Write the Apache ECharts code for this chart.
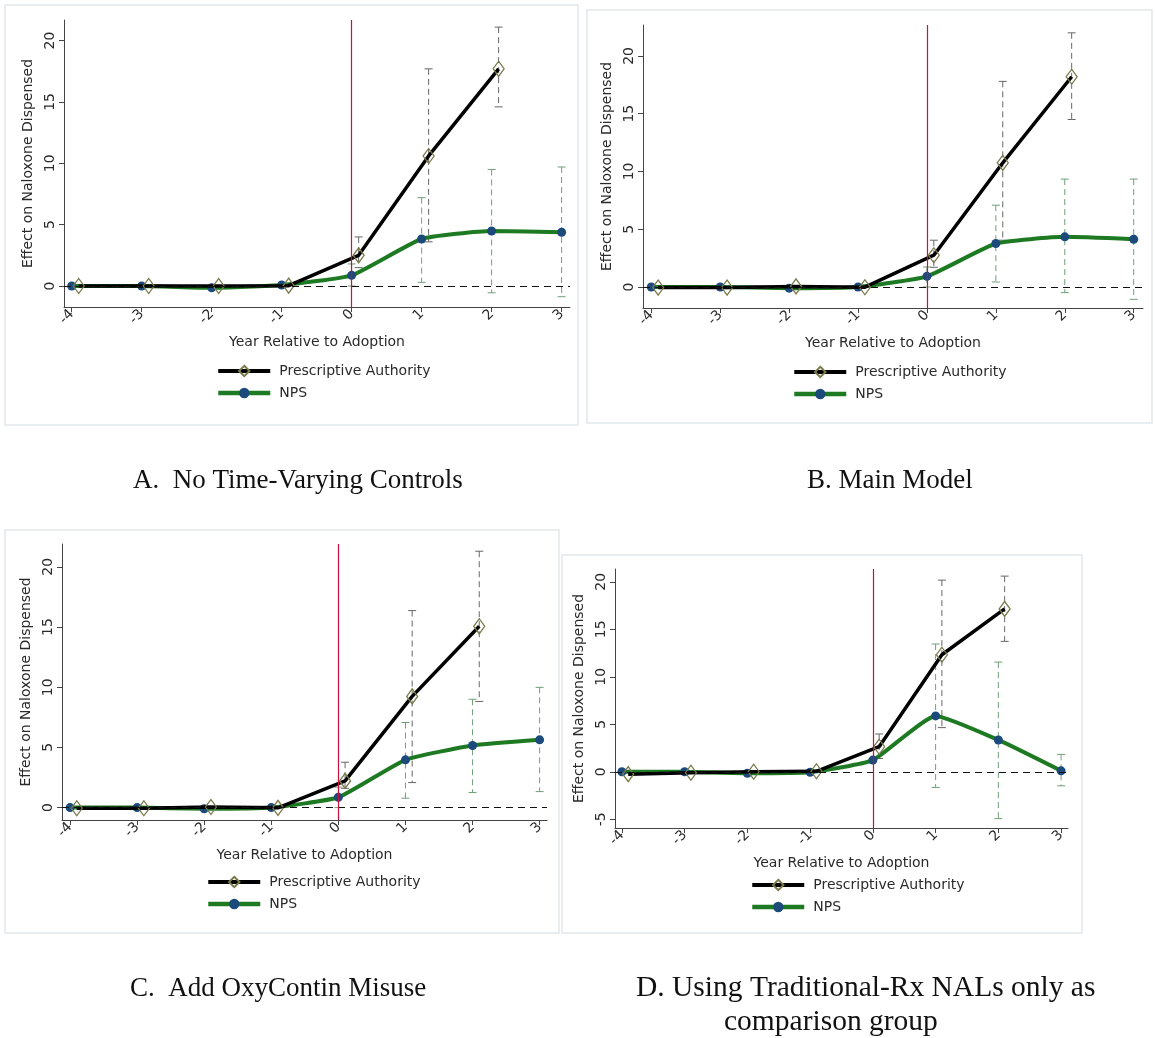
<!DOCTYPE html>
<html>
<head>
<meta charset="utf-8">
<script src="https://cdn.jsdelivr.net/npm/echarts@6/dist/echarts.min.js"></script>
<style>
  body { margin: 0; background: #fff; }
  #main { width: 1155px; height: 1038px; }
</style>
</head>
<body>
<div id="main"></div>
<script>
// event-time years
var years = [-4, -3, -2, -1, 0, 1, 2, 3];
var paYears = [-4, -3, -2, -1, 0, 1, 2];
var xTicks = [-4, -3, -2, -1, 0, 1, 2, 3];

// A. No Time-Varying Controls
var paA = [0, 0, 0, 0.03, 2.5, 10.6, 17.7];
var paLoA = [null, null, null, null, 1.5, 3.6, 14.6];
var paHiA = [null, null, null, null, 4.0, 17.7, 21.1];
var npsA = [0, 0, -0.15, 0.08, 0.87, 3.83, 4.48, 4.38];
var npsLoA = [null, null, null, null, 0.0, 0.3, -0.55, -0.87];
var npsHiA = [null, null, null, null, 1.8, 7.2, 9.5, 9.7];

// B. Main Model
var paB = [-0.05, -0.05, 0.05, -0.02, 2.75, 10.75, 18.2];
var paLoB = [null, null, null, null, 1.7, 4.05, 14.5];
var paHiB = [null, null, null, null, 4.05, 17.8, 22.0];
var npsB = [0, 0, -0.1, 0, 0.92, 3.76, 4.34, 4.13];
var npsLoB = [null, null, null, null, 0.0, 0.43, -0.49, -1.07];
var npsHiB = [null, null, null, null, 1.73, 7.08, 9.34, 9.34];

// C. Add OxyContin Misuse
var paC = [-0.05, -0.05, 0.05, -0.02, 2.22, 9.24, 15.06];
var paLoC = [null, null, null, null, 1.6, 2.08, 8.82];
var paHiC = [null, null, null, null, 3.77, 16.37, 21.3];
var npsC = [0, 0, -0.1, 0, 0.86, 3.97, 5.16, 5.63];
var npsLoC = [null, null, null, null, 0.0, 0.78, 1.25, 1.33];
var npsHiC = [null, null, null, null, 1.7, 7.07, 9.0, 9.99];

// D. Traditional-Rx NALs as comparison group
var paD = [-0.25, -0.1, 0, 0.05, 2.64, 12.32, 17.15];
var paLoD = [null, null, null, null, 1.4, 4.65, 13.73];
var paHiD = [null, null, null, null, 3.98, 20.18, 20.6];
var npsD = [0, 0, -0.15, -0.05, 1.23, 5.88, 3.35, 0.1];
var npsLoD = [null, null, null, null, null, -1.65, -4.93, -1.48];
var npsHiD = [null, null, null, null, null, 13.45, 11.55, 1.83];

var yTicksABC = [0, 5, 10, 15, 20];
var yTicksD = [-5, 0, 5, 10, 15, 20];

var panels = [
  { pa: paA, paLo: paLoA, paHi: paHiA, nps: npsA, npsLo: npsLoA, npsHi: npsHiA,
    grid: { left: 64, top: 20, width: 506, height: 287 },
    x: [-4.11, 3.12], y: [-1.71, 21.68], yTicks: yTicksABC, legend: [216, 364] },
  { pa: paB, paLo: paLoB, paHi: paHiB, nps: npsB, npsLo: npsLoB, npsHi: npsHiB,
    grid: { left: 643, top: 25, width: 500, height: 283 },
    x: [-4.12, 3.135], y: [-1.82, 22.68], yTicks: yTicksABC, legend: [792, 365] },
  { pa: paC, paLo: paLoC, paHi: paHiC, nps: npsC, npsLo: npsLoC, npsHi: npsHiC,
    grid: { left: 62, top: 544, width: 485, height: 276 },
    x: [-4.12, 3.11], y: [-1.03, 21.9], yTicks: yTicksABC, legend: [206, 875] },
  { pa: paD, paLo: paLoD, paHi: paHiD, nps: npsD, npsLo: npsLoD, npsHi: npsHiD,
    grid: { left: 615, top: 569, width: 453, height: 259 },
    x: [-4.11, 3.11], y: [-5.92, 21.35], yTicks: yTicksD, legend: [750, 878] }
];

var font = 'DejaVu Sans';

function ciRender(color) {
  return function (params, api) {
    var x = api.value(0);
    var top = api.coord([x, api.value(2)]);
    var bot = api.coord([x, api.value(1)]);
    var cap = 4;
    return {
      type: 'group',
      children: [
        { type: 'line', shape: { x1: top[0], y1: top[1], x2: bot[0], y2: bot[1] },
          style: { stroke: color, lineWidth: 1, lineDash: [6, 4] } },
        { type: 'line', shape: { x1: top[0] - cap, y1: top[1], x2: top[0] + cap, y2: top[1] },
          style: { stroke: color, lineWidth: 1 } },
        { type: 'line', shape: { x1: bot[0] - cap, y1: bot[1], x2: bot[0] + cap, y2: bot[1] },
          style: { stroke: color, lineWidth: 1 } }
      ]
    };
  };
}

function ciData(xs, lo, hi, shift) {
  var out = [];
  for (var i = 0; i < xs.length; i++) {
    if (lo[i] != null && hi[i] != null) out.push([xs[i] + shift, lo[i], hi[i]]);
  }
  return out;
}

function pts(xs, ys, shift) {
  return xs.map(function (x, i) { return [x + shift, ys[i]]; });
}

var grids = [], xAxes = [], yAxes = [], series = [], legends = [];

panels.forEach(function (p, gi) {
  grids.push(p.grid);
  xAxes.push({
    type: 'value', gridIndex: gi, min: p.x[0], max: p.x[1],
    name: 'Year Relative to Adoption', nameLocation: 'middle', nameGap: 28,
    nameTextStyle: { fontFamily: font, fontSize: 14, color: '#2a2a2a' },
    splitLine: { show: false },
    axisLine: { onZero: false, lineStyle: { color: '#444', width: 1 } },
    axisTick: { customValues: xTicks, length: 5, lineStyle: { color: '#444' } },
    axisLabel: { customValues: xTicks, rotate: 45, margin: 5, fontFamily: font, fontSize: 14, color: '#2a2a2a' }
  });
  yAxes.push({
    type: 'value', gridIndex: gi, min: p.y[0], max: p.y[1],
    name: 'Effect on Naloxone Dispensed', nameLocation: 'middle', nameRotate: 90, nameGap: 29,
    nameTextStyle: { fontFamily: font, fontSize: 14, color: '#2a2a2a' },
    splitLine: { show: false },
    axisLine: { show: true, onZero: false, lineStyle: { color: '#444', width: 1 } },
    axisTick: { show: true, customValues: p.yTicks, length: 5, lineStyle: { color: '#444' } },
    axisLabel: { customValues: p.yTicks, rotate: 90, margin: 7, fontFamily: font, fontSize: 14, color: '#2a2a2a' }
  });

  // reference lines
  series.push({
    type: 'line', xAxisIndex: gi, yAxisIndex: gi, data: [], z: 1, silent: true,
    markLine: {
      silent: true, symbol: 'none', label: { show: false }, animation: false,
      data: [
        { yAxis: 0, lineStyle: { color: '#111', type: [7, 5], width: 1.2 } },
        { xAxis: 0, lineStyle: { color: '#c8103a', type: 'solid', width: 1.2 } }
      ]
    }
  });
  series.push({
    type: 'custom', xAxisIndex: gi, yAxisIndex: gi, z: 2, silent: true,
    renderItem: ciRender('#666'), encode: { x: 0, y: [1, 2] },
    data: ciData(paYears, p.paLo, p.paHi, 0.1)
  });
  series.push({
    type: 'custom', xAxisIndex: gi, yAxisIndex: gi, z: 2, silent: true,
    renderItem: ciRender('#6f9f78'), encode: { x: 0, y: [1, 2] },
    data: ciData(years, p.npsLo, p.npsHi, 0)
  });
  series.push({
    name: 'NPS', type: 'line', xAxisIndex: gi, yAxisIndex: gi, z: 3,
    smooth: 0.15, symbol: 'circle', symbolSize: 9, showSymbol: true,
    lineStyle: { color: '#1d7a22', width: 4 },
    itemStyle: { color: '#1c4a7a', borderWidth: 0 },
    data: pts(years, p.nps, 0)
  });
  series.push({
    name: 'Prescriptive Authority', type: 'line', xAxisIndex: gi, yAxisIndex: gi, z: 4,
    symbol: 'diamond', symbolSize: [11, 15], showSymbol: true,
    lineStyle: { color: '#000', width: 3.5 },
    itemStyle: { color: 'rgba(255,255,255,0)', borderColor: '#7a7a4c', borderWidth: 1.3 },
    data: pts(paYears, p.pa, 0.1)
  });

  legends.push({
    left: p.legend[0], top: p.legend[1], orient: 'vertical', selectedMode: false,
    padding: 0, itemWidth: 52, itemHeight: 13, itemGap: 8,
    data: [
      { name: 'Prescriptive Authority', lineStyle: { width: 4 } },
      { name: 'NPS', lineStyle: { width: 4.5 } }
    ],
    textStyle: { fontFamily: font, fontSize: 14, color: '#2a2a2a', padding: [0, 0, 0, 4] }
  });
});

var boxStyle = { fill: 'none', stroke: '#e4e8ec', lineWidth: 1.5 };
var capStyle = { font: '27px "Liberation Serif"', fill: '#111', textVerticalAlign: 'middle' };
var capStyleD = { font: '29.5px "Liberation Serif"', fill: '#111', textVerticalAlign: 'middle' };

var option = {
  animation: false,
  backgroundColor: '#fff',
  grid: grids,
  xAxis: xAxes,
  yAxis: yAxes,
  legend: legends,
  series: series,
  graphic: [
    { type: 'rect', shape: { x: 5, y: 5, width: 573, height: 420 }, style: boxStyle, silent: true, z: -1 },
    { type: 'rect', shape: { x: 587, y: 10, width: 565, height: 413 }, style: boxStyle, silent: true, z: -1 },
    { type: 'rect', shape: { x: 5, y: 530, width: 554, height: 403 }, style: boxStyle, silent: true, z: -1 },
    { type: 'rect', shape: { x: 562, y: 555, width: 520, height: 378 }, style: boxStyle, silent: true, z: -1 },
    { type: 'text', left: 133, top: 467, style: Object.assign({ text: 'A.  No Time-Varying Controls' }, capStyle) },
    { type: 'text', left: 807, top: 467, style: Object.assign({ text: 'B. Main Model' }, capStyle) },
    { type: 'text', left: 130, top: 975, style: Object.assign({ text: 'C.  Add OxyContin Misuse' }, capStyle) },
    { type: 'text', left: 636, top: 973, style: Object.assign({ text: 'D. Using Traditional-Rx NALs only as' }, capStyleD) },
    { type: 'text', left: 724, top: 1007, style: Object.assign({ text: 'comparison group' }, capStyleD) }
  ]
};

var chart = echarts.init(document.getElementById('main'));
chart.setOption(option);
</script>
</body>
</html>
